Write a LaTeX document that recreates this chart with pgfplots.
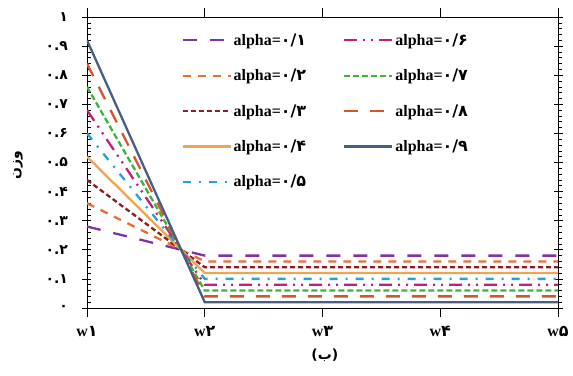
\documentclass[border=0pt]{standalone}
\usepackage{fontspec}
\setmainfont{Liberation Serif}
\newfontfamily\fa[Script=Arabic]{DejaVu Sans}
\TeXXeTstate=1
\usepackage{pgfplots}
\pgfplotsset{compat=1.18}
\definecolor{cA}{RGB}{128,50,170}
\definecolor{cB}{RGB}{232,112,50}
\definecolor{cC}{RGB}{140,28,40}
\definecolor{cD}{RGB}{242,165,80}
\definecolor{cE}{RGB}{40,160,220}
\definecolor{cF}{RGB}{200,30,120}
\definecolor{cG}{RGB}{60,180,60}
\definecolor{cH}{RGB}{215,85,45}
\definecolor{cI}{RGB}{70,95,130}
\newcommand{\al}[1]{\textbf{alpha=}{\fa\bfseries #1}}
\begin{document}
\begin{tikzpicture}
\begin{axis}[
  name=ax,
  scale only axis, width=471bp, height=291bp,
  xmin=1, xmax=5, ymin=0, ymax=1,
  axis line style={black, line width=0.8bp},
  xtick={1,2,3,4,5},
  xticklabels={\textbf{w}{\fa\bfseries ۱},\textbf{w}{\fa\bfseries ۲},\textbf{w}{\fa\bfseries ۳},\textbf{w}{\fa\bfseries ۴},\textbf{w}{\fa\bfseries ۵}},
  ytick={0,0.1,0.2,0.3,0.4,0.5,0.6,0.7,0.8,0.9,1},
  yticklabels={۰,۰.۱,۰.۲,۰.۳,۰.۴,۰.۵,۰.۶,۰.۷,۰.۸,۰.۹,۱},
  minor y tick num=4,
  xtick align=outside,
  ytick align=center,
  major tick length=9bp, minor tick length=4bp,
  tick style={black, line width=0.6bp},
  minor tick style={xshift=2bp},
  xticklabel style={font=\fontsize{16}{18}\selectfont, yshift=-6bp},
  yticklabel style={font=\fa\bfseries\fontsize{14}{16}\selectfont, xshift=-11bp},
  xlabel={{\fa\bfseries (ب)}},
  xlabel style={at={(axis description cs:0.505,-0.162)}, anchor=center, font=\fontsize{14}{16}\selectfont},
  ylabel={{\fa\bfseries\beginR وزن\endR}},
  ylabel style={at={(axis description cs:-0.1465,0.49)}, anchor=center, font=\fontsize{14}{16}\selectfont},
  legend image code/.code={\draw[#1] (0bp,0bp) -- (48bp,0bp);},
  transpose legend,
  legend columns=5,
  legend cell align=left,
  legend style={draw=none, fill=none, at={(rel axis cs:0.2,0.95)}, anchor=north west,
    inner sep=0pt, row sep=18.3bp, font=\fontsize{16}{18}\selectfont,
    /tikz/every even column/.append style={column sep=35bp}},
  every axis plot/.append style={line width=2.3bp},
]
\addplot[cA, dash pattern=on 14bp off 13bp] coordinates {(1,0.28) (2,0.18) (3,0.18) (4,0.18) (5,0.18)};
\addlegendentry{\al{۰/۱}}
\addplot[cB, dash pattern=on 8bp off 7bp] coordinates {(1,0.36) (2,0.16) (3,0.16) (4,0.16) (5,0.16)};
\addlegendentry{\al{۰/۲}}
\addplot[cC, dash pattern=on 5bp off 3bp] coordinates {(1,0.44) (2,0.14) (3,0.14) (4,0.14) (5,0.14)};
\addlegendentry{\al{۰/۳}}
\addplot[cD] coordinates {(1,0.52) (2,0.12) (3,0.12) (4,0.12) (5,0.12)};
\addlegendentry{\al{۰/۴}}
\addplot[cE, dash pattern=on 8bp off 8bp on 2bp off 8bp] coordinates {(1,0.60) (2,0.10) (3,0.10) (4,0.10) (5,0.10)};
\addlegendentry{\al{۰/۵}}
\addplot[cF, dash pattern=on 13bp off 6bp on 2bp off 6bp on 2bp off 6bp] coordinates {(1,0.68) (2,0.08) (3,0.08) (4,0.08) (5,0.08)};
\addlegendentry{\al{۰/۶}}
\addplot[cG, dash pattern=on 6bp off 3bp] coordinates {(1,0.76) (2,0.06) (3,0.06) (4,0.06) (5,0.06)};
\addlegendentry{\al{۰/۷}}
\addplot[cH, dash pattern=on 14bp off 12bp] coordinates {(1,0.84) (2,0.04) (3,0.04) (4,0.04) (5,0.04)};
\addlegendentry{\al{۰/۸}}
\addplot[cI] coordinates {(1,0.92) (2,0.02) (3,0.02) (4,0.02) (5,0.02)};
\addlegendentry{\al{۰/۹}}
\end{axis}
\pgfresetboundingbox
\path[use as bounding box] ([shift={(-87bp,-68bp)}]ax.south west) rectangle ([shift={(15bp,17bp)}]ax.north east);
\end{tikzpicture}
\end{document}
